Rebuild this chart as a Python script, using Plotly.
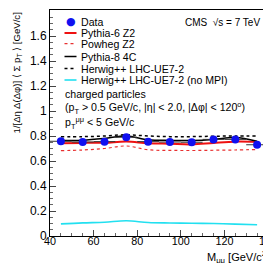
import plotly.graph_objects as go

mass = [45, 55, 65, 75, 85, 95, 105, 115, 125, 135]
data_vals = [0.758, 0.752, 0.755, 0.790, 0.755, 0.752, 0.750, 0.773, 0.773, 0.730]
data_err = [0.010, 0.010, 0.010, 0.010, 0.010, 0.010, 0.010, 0.012, 0.012, 0.014]
bin_half = [5] * 10
pythia6_z2 = [0.742, 0.745, 0.746, 0.756, 0.742, 0.738, 0.733, 0.745, 0.755, 0.752]
powheg_z2 = [0.683, 0.688, 0.700, 0.720, 0.690, 0.685, 0.684, 0.686, 0.688, 0.692]
pythia8_4c = [0.765, 0.766, 0.780, 0.800, 0.770, 0.765, 0.764, 0.772, 0.788, 0.758]
herwig_ue7 = [0.795, 0.795, 0.800, 0.810, 0.800, 0.795, 0.795, 0.798, 0.800, 0.800]
herwig_nompi = [0.097, 0.105, 0.110, 0.122, 0.108, 0.104, 0.102, 0.100, 0.095, 0.090]

legend_names = ["Data", "Pythia-6 Z2", "Powheg Z2", "Pythia-8 4C",
                "Herwig++ LHC-UE7-2", "Herwig++ LHC-UE7-2 (no MPI)"]

FONT = "Liberation Sans, Arial, sans-serif"
fig = go.Figure()

def curve(y, color, width, dash, name):
    fig.add_trace(go.Scatter(x=mass, y=y, mode="lines", name=name,
                             line=dict(color=color, width=width, dash=dash,
                                       shape="spline", smoothing=1.0),
                             showlegend=False))

curve(powheg_z2, "#e83030", 1.2, "dot", legend_names[2])
curve(herwig_nompi, "#22e0f0", 1.6, "solid", legend_names[5])
curve(pythia6_z2, "#ee1111", 2.0, "solid", legend_names[1])
curve(herwig_ue7, "black", 1.5, "dot", legend_names[4])
curve(pythia8_4c, "black", 1.5, "solid", legend_names[3])

fig.add_trace(go.Scatter(x=mass, y=data_vals, mode="markers", name=legend_names[0],
                         marker=dict(color="#1010f0", size=8),
                         error_x=dict(type="data", array=bin_half, color="#333", thickness=1, width=0),
                         error_y=dict(type="data", array=data_err, color="#333", thickness=1, width=0),
                         showlegend=False))

L, R, T, B = 42, 11, 2, 35
W, H = 271, 263
pw, ph = W - L - R, H - T - B

def px(x):
    return (x - L) / pw

def py(y):
    return (H - B - y) / ph

shapes = []
annotations = []
legend_y = [14, 25, 35.7, 48.5, 60.5, 72]
line_styles = [None,
               ("#ee1111", 2, "solid"),
               ("#e83030", 1.2, "dot"),
               ("black", 1.5, "solid"),
               ("black", 1.5, "dot"),
               ("#22e0f0", 1.6, "solid")]
for name, yy, st in zip(legend_names, legend_y, line_styles):
    if st is None:
        annotations.append(dict(x=px(62.5), y=py(yy), xref="paper", yref="paper",
                                text="●", showarrow=False, xanchor="center", yanchor="middle",
                                font=dict(size=11, color="#1010f0", family="DejaVu Sans")))
    else:
        shapes.append(dict(type="line", xref="paper", yref="paper",
                           x0=px(56.5), x1=px(68.5), y0=py(yy), y1=py(yy),
                           line=dict(color=st[0], width=st[1], dash=st[2])))
    annotations.append(dict(x=px(70.5), y=py(yy), xref="paper", yref="paper", text=name,
                            showarrow=False, xanchor="left", yanchor="middle",
                            font=dict(size=10.6, color="black", family=FONT)))

extra = [("charged particles", 86),
         ("(p<sub>T</sub> > 0.5 GeV/c, |η| < 2.0, |Δφ| < 120<sup>o</sup>)", 100),
         ("p<sub>T</sub><sup>μμ</sup> < 5 GeV/c", 115)]
for t, yy in extra:
    annotations.append(dict(x=px(54.5), y=py(yy), xref="paper", yref="paper", text=t,
                            showarrow=False, xanchor="left", yanchor="middle",
                            font=dict(size=10.6, color="black", family=FONT)))

annotations.append(dict(x=px(254), y=py(15), xref="paper", yref="paper",
                        text="CMS  √s = 7 TeV", showarrow=False, xanchor="right",
                        yanchor="middle", font=dict(size=10, color="black", family=FONT)))
annotations.append(dict(x=px(263), y=py(249), xref="paper", yref="paper",
                        text="M<sub>μμ</sub> [GeV/c<sup>2</sup>]", showarrow=False,
                        xanchor="right", yanchor="middle",
                        font=dict(size=11, color="black", family=FONT)))
annotations.append(dict(x=px(8), y=py(3), xref="paper", yref="paper",
                        text="1/[Δη Δ(Δφ)] ⟨ Σ p<sub>T</sub> ⟩ [GeV/c]", showarrow=False,
                        textangle=-90, xanchor="center", yanchor="top",
                        font=dict(size=9.6, color="black", family=FONT)))

fig.update_layout(
    width=W, height=H,
    margin=dict(l=L, r=R, t=T, b=B),
    paper_bgcolor="white", plot_bgcolor="white",
    showlegend=False,
    shapes=shapes, annotations=annotations,
    xaxis=dict(range=[40, 140], tick0=40, dtick=20, ticks="inside", ticklen=6,
               tickcolor="#444", showgrid=False, zeroline=False,
               showline=True, linecolor="black", linewidth=1, mirror=True,
               ticklabeloverflow="allow", ticklabelstandoff=-5,
               tickfont=dict(size=10.8, family=FONT, color="black"),
               minor=dict(ticks="inside", ticklen=3, dtick=5, tickcolor="#666")),
    yaxis=dict(range=[0, 1.808], tick0=0, dtick=0.2, ticks="inside", ticklen=6,
               tickcolor="#444", showgrid=False, zeroline=False,
               showline=True, linecolor="black", linewidth=1, mirror=True,
               tickformat=".1f",
               tickfont=dict(size=12, family=FONT, color="black"),
               minor=dict(ticks="inside", ticklen=3, dtick=0.05, tickcolor="#666")),
)
fig.update_yaxes(labelalias={"0.0": "0", "1.0": "1"})

fig.write_html("out.html")
